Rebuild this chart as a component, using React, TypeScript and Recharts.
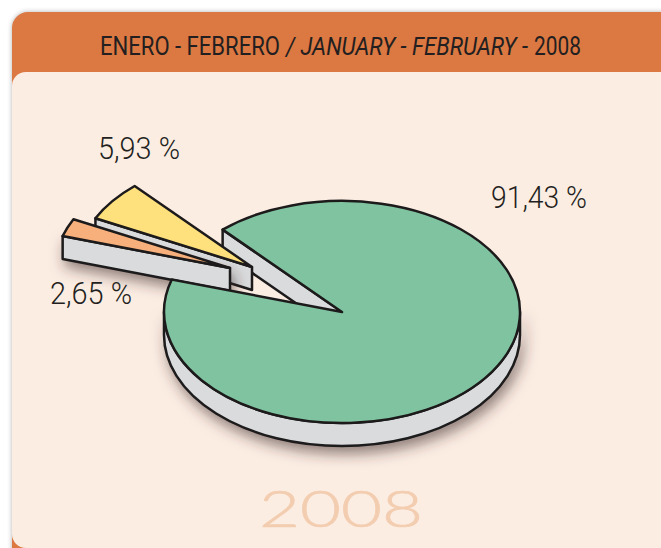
import React from 'react';
import { PieChart, Pie } from 'recharts';

const sliceNames = ['Green', 'Yellow', 'Orange'];
const sliceValues = [91.43, 5.93, 2.65];
const sliceFills = ['#80C3A0', '#FEE17D', '#F7B07B'];

const WIDTH = 661;
const HEIGHT = 548;
const CX = 342;
const CY = 312;
const RADIUS = 178;
const SQUASH = 0.624;
const DEPTH = 23;
const START_ANGLE = 163;
const WALL = '#DADBDD';
const LINE = '#1C1A1B';

// how far each slice is pulled out of the pie, and where its label sits
const explode = [
  { dx: 0, dy: 0, shrink: 0 },
  { dx: -90, dy: -45, shrink: 3 },
  { dx: -112, dy: -44, shrink: 3 },
];
const labelBoxes = [
  { x: 491, y: 208, w: 96 },
  { x: 98, y: 159, w: 82 },
  { x: 50, y: 304, w: 82 },
];
const HEADER_SQUEEZE = 0.78;
const headerParts = [
  { text: 'ENERO - FEBRERO', x: 100, w: 180, italic: false },
  { text: '/ JANUARY - FEBRUARY -', x: 286, w: 242, italic: true },
  { text: '2008', x: 534, w: 47, italic: false },
];

const data = sliceNames.map((name, i) => ({
  name,
  value: sliceValues[i],
  fill: sliceFills[i],
  index: i,
}));

const point = (cx: number, cy: number, r: number, deg: number, drop = 0) => {
  const a = (deg * Math.PI) / 180;
  return `${cx + r * Math.cos(a)} ${cy - r * SQUASH * Math.sin(a) + drop}`;
};

const topPath = (cx: number, cy: number, r: number, start: number, end: number) => {
  const large = end - start > 180 ? 1 : 0;
  return `M${cx} ${cy} L${point(cx, cy, r, start)} A${r} ${r * SQUASH} 0 ${large} 0 ${point(cx, cy, r, end)} Z`;
};

const wallPath = (cx: number, cy: number, r: number, deg: number) =>
  `M${cx} ${cy} L${point(cx, cy, r, deg)} L${point(cx, cy, r, deg, DEPTH)} L${cx} ${cy + DEPTH} Z`;

const rimPath = (cx: number, cy: number, r: number) =>
  `M${cx - r} ${cy} A${r} ${r * SQUASH} 0 0 0 ${cx + r} ${cy} L${cx + r} ${cy + DEPTH} A${r} ${r * SQUASH} 0 0 1 ${cx - r} ${cy + DEPTH} Z`;

// everything below the green top: rim, walls and the two pulled out slices
const UnderShape = (props: any) => {
  const { cx, cy, outerRadius, startAngle, endAngle, fill, payload } = props;
  const i = payload.index;
  const ox = cx + explode[i].dx;
  const oy = cy + explode[i].dy;
  const r = outerRadius - explode[i].shrink;
  if (i === 0) {
    return (
      <g stroke={LINE} strokeWidth={2.5} strokeLinejoin="round">
        <path d={rimPath(ox, oy, r)} fill={WALL} filter="url(#softShadow)" />
        <path d={wallPath(ox, oy, r, endAngle)} fill={WALL} />
      </g>
    );
  }
  return (
    <g stroke={LINE} strokeWidth={2.5} strokeLinejoin="round">
      <path d={wallPath(ox, oy, r, endAngle)} fill={WALL} filter={i === 2 ? 'url(#softShadow)' : undefined} />
      <path d={topPath(ox, oy, r, startAngle, endAngle)} fill={fill} />
    </g>
  );
};

const TopShape = (props: any) => {
  const { cx, cy, outerRadius: r, startAngle, endAngle, fill, payload } = props;
  if (payload.index !== 0) return <g />;
  return (
    <path
      d={topPath(cx, cy, r, startAngle, endAngle)}
      fill={fill}
      stroke={LINE}
      strokeWidth={2.5}
      strokeLinejoin="round"
    />
  );
};

const thin = 'Roboto, "Liberation Sans", sans-serif';

export default function App() {
  return (
    <div style={{ position: 'absolute', left: 0, top: 0, width: WIDTH, height: HEIGHT, overflow: 'hidden', background: '#fff' }}>
      <div
        style={{
          position: 'absolute', left: 12, top: 12, width: 680, height: 560,
          background: '#DC7842', borderRadius: 16, boxShadow: '0 0 5px rgba(0,0,0,0.3)',
        }}
      />
      <div
        style={{
          position: 'absolute', left: 12, top: 72, width: 680, height: 476,
          background: '#FCEDE3', borderRadius: 14,
        }}
      />
      <svg width={0} height={0} style={{ position: 'absolute' }}>
        <defs>
          <filter id="softShadow" x="-20%" y="-20%" width="150%" height="160%">
            <feDropShadow dx={3} dy={7} stdDeviation={7} floodColor="#3A2A2A" floodOpacity={0.55} />
          </filter>
        </defs>
      </svg>
      <div style={{ position: 'absolute', left: 0, top: 0 }}>
        <PieChart width={WIDTH} height={HEIGHT} margin={{ top: 0, right: 0, bottom: 0, left: 0 }}>
          <Pie
            data={data}
            dataKey="value"
            nameKey="name"
            cx={CX}
            cy={CY}
            innerRadius={0}
            outerRadius={RADIUS}
            startAngle={START_ANGLE}
            endAngle={START_ANGLE + 360}
            isAnimationActive={false}
            shape={UnderShape}
          />
          <Pie
            data={data}
            dataKey="value"
            nameKey="name"
            cx={CX}
            cy={CY}
            innerRadius={0}
            outerRadius={RADIUS}
            startAngle={START_ANGLE}
            endAngle={START_ANGLE + 360}
            isAnimationActive={false}
            shape={TopShape}
          />
        </PieChart>
      </div>
      <svg width={WIDTH} height={HEIGHT} style={{ position: 'absolute', left: 0, top: 0, pointerEvents: 'none' }}>
        <g fontFamily={thin} fontSize={26} fill="#231F20">
          {headerParts.map((p) => (
            <text
              key={p.text}
              transform={`translate(${p.x} 55) scale(${HEADER_SQUEEZE} 1)`}
              textLength={p.w / HEADER_SQUEEZE}
              lengthAdjust="spacingAndGlyphs"
              fontStyle={p.italic ? 'italic' : 'normal'}
            >
              {p.text}
            </text>
          ))}
        </g>
        {sliceValues.map((v, i) => (
          <text
            key={sliceNames[i]}
            x={labelBoxes[i].x}
            y={labelBoxes[i].y}
            textLength={labelBoxes[i].w}
            lengthAdjust="spacingAndGlyphs"
            fontFamily={thin}
            fontWeight={300}
            fontSize={32}
            fill="#231F20"
          >
            {`${v.toFixed(2).replace('.', ',')} %`}
          </text>
        ))}
        <text
          x={259}
          y={527}
          textLength={164}
          lengthAdjust="spacingAndGlyphs"
          fontFamily='Lato, "Open Sans", sans-serif'
          fontWeight={300}
          fontSize={52}
          fill="#F3CDB0"
          stroke="#F3CDB0"
          strokeWidth={0.7}
        >
          2008
        </text>
      </svg>
    </div>
  );
}
